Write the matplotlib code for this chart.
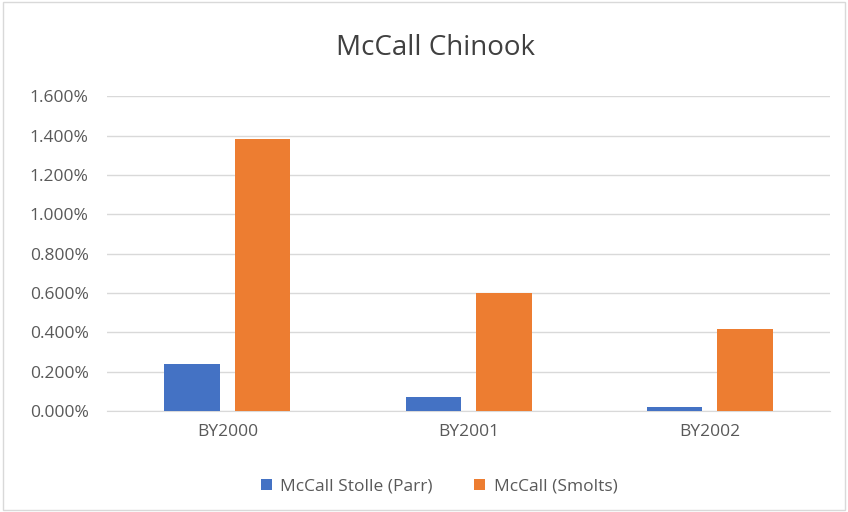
import numpy as np
import matplotlib.pyplot as plt
from matplotlib.ticker import FuncFormatter
from matplotlib.patches import Rectangle

categories = ["BY2000", "BY2001", "BY2002"]
parr = [0.239, 0.071, 0.020]
smolts = [1.385, 0.600, 0.416]
series_names = ["McCall Stolle (Parr)", "McCall (Smolts)"]

plt.rcParams['font.family'] = ['Open Sans', 'DejaVu Sans']

fig = plt.figure(figsize=(8.48, 5.12), dpi=100)
ax = fig.add_axes([0.126, 0.197, 0.853, 0.615])

x = np.arange(len(categories))
w = 0.23
gap = 0.0625
ax.bar(x - (w + gap) / 2, parr, w, color="#4472C4", label=series_names[0], zorder=3)
ax.bar(x + (w + gap) / 2, smolts, w, color="#ED7D31", label=series_names[1], zorder=3)

ax.set_xlim(-0.5, 2.5)
ax.set_ylim(0, 1.6)
ax.set_yticks(np.arange(0, 1.61, 0.2))
ax.yaxis.set_major_formatter(FuncFormatter(lambda v, p: f"{v:.3f}%"))
ax.set_xticks(x)
ax.set_xticklabels(categories)
ax.grid(axis='y', color="#D9D9D9", linewidth=1, zorder=0)
for s in ["top", "right", "left"]:
    ax.spines[s].set_visible(False)
ax.spines["bottom"].set_color("#D9D9D9")
ax.tick_params(axis='both', length=0, colors="#595959", labelsize=12.5)
ax.tick_params(axis='x', pad=9)
ax.tick_params(axis='y', pad=13)

fig.text(0.514, 0.906, "McCall Chinook", ha='center', va='center', fontsize=20, color="#404040")
fig.legend(loc='center', bbox_to_anchor=(0.518, 0.049), ncol=2, frameon=False,
           fontsize=12.5, labelcolor="#595959", handlelength=0.6, handleheight=0.6,
           columnspacing=2.4, handletextpad=0.5)

fig.patches.append(Rectangle((0.004, 0.004), 0.992, 0.992, transform=fig.transFigure,
                             fill=False, edgecolor="#D9D9D9", linewidth=1))

plt.savefig("out.png", dpi=100)
plt.close()
